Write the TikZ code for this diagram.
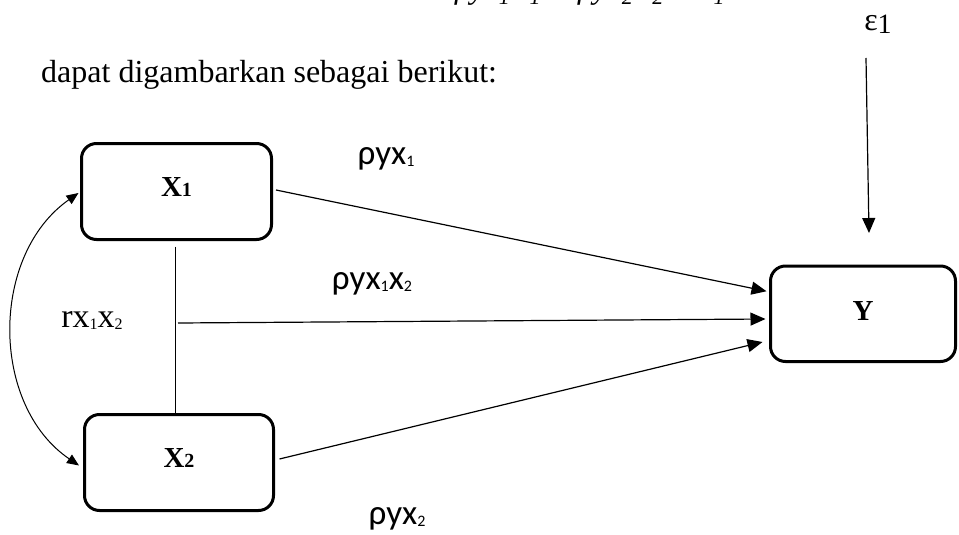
\documentclass[tikz,border=0pt]{standalone}
\usepackage{fontspec}
\setmainfont{Liberation Serif}
\newfontfamily\calfont{Carlito}
\usetikzlibrary{arrows.meta}

% lowered small index used in the path labels
\newcommand\lowsub[3][16]{\raisebox{-#2pt}{\fontsize{#1}{#1}\selectfont #3}}

\begin{document}
\begin{tikzpicture}[x=1pt,y=-1pt,
  box/.style={draw, line width=3pt, rounded corners=15pt, inner sep=0pt,
              minimum width=190pt, minimum height=96pt},
  conn/.style={line width=1.2pt, -{Triangle[length=15pt,width=13pt]}},
  thinline/.style={line width=1pt},
  curv/.style={line width=1pt, {Triangle[length=12pt,width=10pt]}-{Triangle[length=12pt,width=10pt]}},
  varlbl/.style={inner sep=0pt, anchor=base, font=\fontsize{29}{29}\selectfont\bfseries},
  coef/.style={inner sep=0pt, anchor=base, font=\calfont\fontsize{35}{35}\selectfont},
  plain/.style={inner sep=0pt, font=\fontsize{32}{32}\selectfont}
]
\useasboundingbox (0,0) rectangle (959,535);

% equation line running off the top edge
\begin{scope}
  \clip (0,0) rectangle (959,535);
  \node[plain, anchor=base west] (eqline) at (455,-1)
    {\itshape ρyx\lowsub[22]{6}{1}X\lowsub[22]{6}{1} + ρyx\lowsub[22]{6}{2}X\lowsub[22]{6}{2} + ε\lowsub[22]{6}{1}};
\end{scope}

% introductory sentence
\node[plain, anchor=base west] (intro) at (41,83) {dapat digambarkan sebagai berikut:};

% variable boxes
\node[box] (X1) at (176.5,191.5) {};
\node[box, minimum width=189pt] (X2) at (179,462.5) {};
\node[box, minimum width=185pt, minimum height=95.5pt] (Y) at (863,313.75) {};

\node[varlbl] (lX1) at (176.5,196) {X\fontsize{20}{20}\selectfont 1};
\node[varlbl] (lX2) at (179,467) {X\fontsize{20}{20}\selectfont 2};
\node[varlbl] (lY) at (863,320) {Y};

% error term
\node[plain, anchor=base] (eps) at (878,31) {ε\lowsub[28]{2}{1}};
\coordinate (epsTail) at (866,58);
\coordinate (epsHead) at (869,233);
\draw[conn] (epsTail) -- (epsHead);

% paths into Y
\draw[conn] ([shift={(3,-1.5)}]X1.east) -- ([shift={(-2.5,-22.5)}]Y.west);
\draw[conn] ([shift={(4.5,-3.5)}]X2.east) -- ([shift={(-6.5,28.25)}]Y.west);

% correlation link between X1 and X2
\draw[thinline] ([shift={(-1.5,5.5)}]X1.south) -- ([shift={(-4,0)}]X2.north);
\coordinate (joint) at (178,323);
\draw[conn] (joint) -- ([shift={(-3.5,5.25)}]Y.west);

\coordinate (cTop) at ([shift={(-1.5,1.5)}]X1.west);
\coordinate (cBot) at ([shift={(-4,3)}]X2.west);
\draw[curv] (cTop) .. controls (-10,255) and (-10,405) .. (cBot);

% coefficient labels
\node[coef] (p1) at (386,164) {ρyx\lowsub{2}{1}};
\node[coef] (p12) at (372,289) {ρyx\lowsub{2}{1}x\lowsub{2}{2}};
\node[coef] (p2) at (397,524) {ρyx\lowsub{2}{2}};
\node[plain, anchor=base, font=\fontsize{34}{34}\selectfont] (r12) at (92,327) {rx\lowsub{2}{1}x\lowsub{2}{2}};
\end{tikzpicture}
\end{document}
